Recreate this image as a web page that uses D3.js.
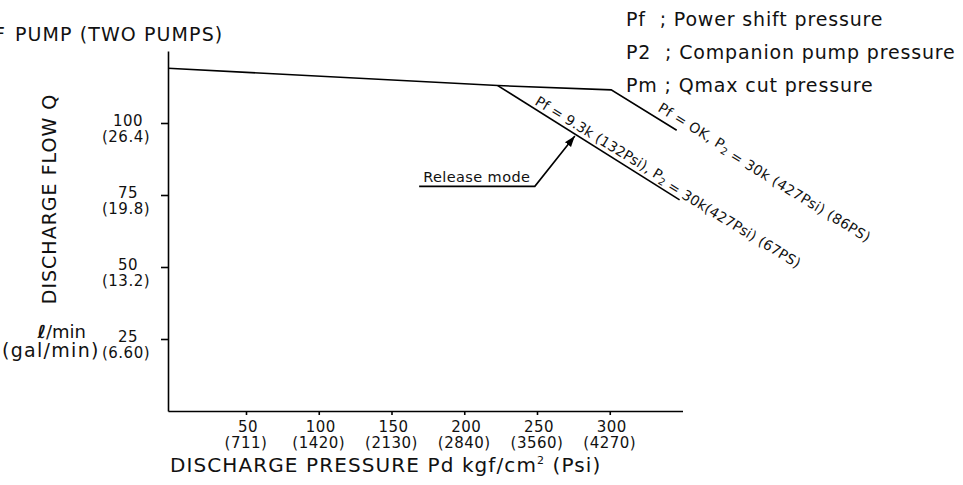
<!DOCTYPE html>
<html>
<head>
<meta charset="utf-8">
<script src="https://cdn.jsdelivr.net/npm/d3@7"></script>
<style>
  body { margin: 0; background: #fff; }
  svg { display: block; font-family: "DejaVu Sans", "Open Sans", sans-serif; fill: #111; }
</style>
</head>
<body>
<div id="viz"></div>
<script>
(function() {

// discharge pressure kgf/cm2 -> discharge flow l/min
var pressureMax = [0, 223, 301, 346],
    flowMax = [119, 113, 111.5, 97.5];      // Pf = 0K, P2 = 30k (86PS)
var pressureRel = [223, 348],
    flowRel = [113, 73.3];                  // Pf = 9.3k, P2 = 30k (67PS)

var xTicks = [50, 100, 150, 200, 250, 300],
    xTickPsi = ["(711)", "(1420)", "(2130)", "(2840)", "(3560)", "(4270)"];
var yTicks = [25, 50, 75, 100],
    yTickGal = ["(6.60)", "(13.2)", "(19.8)", "(26.4)"];

var legendLines = ["Pf  ; Power shift pressure", "P2  ; Companion pump pressure", "Pm ; Qmax cut pressure"];

// release mode pointer (pressure, flow)
var releaseP = [169, 248.5, 276],
    releaseQ = [78, 78, 95.5];

var W = 963, H = 485;

var svg = d3.select("#viz").append("svg")
    .attr("width", W)
    .attr("height", H);

// the drawing's first interval is a bit wider than the rest
var x = d3.scaleLinear().domain([0, 50, 350]).range([168, 246, 682.5]);
var y = d3.scaleLinear().domain([0, 125]).range([411, 51]);

// axes
svg.append("g")
    .attr("transform", "translate(0," + y(0) + ")")
    .call(d3.axisBottom(x).tickValues(xTicks).tickFormat("").tickSize(4).tickSizeOuter(0));
svg.append("g")
    .attr("transform", "translate(" + x(0) + ",0)")
    .call(d3.axisLeft(y).tickValues(yTicks).tickFormat("").tickSize(7).tickSizeOuter(0));
svg.selectAll(".domain, .tick line").style("stroke", "#000").style("stroke-width", 1.6);

// x tick labels
var xl = svg.append("g").style("font-size", "15px").style("letter-spacing", "0.5px")
    .attr("text-anchor", "middle");
xl.selectAll("text.v").data(xTicks).enter().append("text")
    .attr("x", function(d){return x(d) + 2;})
    .attr("y", 432)
    .text(function(d){return d;});
xl.selectAll("text.p").data(xTickPsi).enter().append("text")
    .attr("x", function(d, i){return x(xTicks[i]);})
    .attr("y", 448)
    .text(function(d){return d;});

svg.append("text")
    .attr("x", 170).attr("y", 472)
    .style("font-size", "20px").style("letter-spacing", "1.1px")
    .html("DISCHARGE PRESSURE Pd kgf/cm<tspan dy='-8' style='font-size:11px'>2</tspan><tspan dy='8'> (Psi)</tspan>");

// y tick labels
var yl = svg.append("g").style("font-size", "15px").style("letter-spacing", "0.5px")
    .attr("text-anchor", "middle");
yl.selectAll("text.v").data(yTicks).enter().append("text")
    .attr("x", 128)
    .attr("y", function(d){return y(d) + 3;})
    .text(function(d){return d;});
yl.selectAll("text.g").data(yTickGal).enter().append("text")
    .attr("x", 126)
    .attr("y", function(d, i){return y(yTicks[i]) + 19;})
    .text(function(d){return d;});

svg.append("text")
    .attr("transform", "translate(56,199) rotate(-90)")
    .attr("text-anchor", "middle")
    .style("font-size", "19px").style("letter-spacing", "1px")
    .text("DISCHARGE FLOW Q");

svg.append("text").attr("x", 86).attr("y", 338).attr("text-anchor", "end")
    .style("font-size", "18px")
    .html("<tspan style='font-weight:bold'>ℓ</tspan>/min");
svg.append("text").attr("x", 2).attr("y", 357)
    .style("font-size", "19px").style("letter-spacing", "1.3px")
    .text("(gal/min)");

// title (cut off at the left edge)
var title = svg.append("text").attr("y", 41)
    .style("font-size", "19px").style("letter-spacing", "1.1px");
title.append("tspan").attr("x", -6).text("F");
title.append("tspan").attr("x", 15).text("PUMP (TWO PUMPS)");

// legend
svg.append("g").style("font-size", "19px").style("letter-spacing", "0.85px")
  .selectAll("text").data(legendLines).enter().append("text")
    .attr("x", 626)
    .attr("y", function(d, i){return 26 + i * 33;})
    .attr("xml:space", "preserve")
    .style("white-space", "pre")
    .text(function(d){return d;});

// curves
var line = d3.line()
    .x(function(d){return x(d[0]);})
    .y(function(d){return y(d[1]);});

svg.append("path")
    .datum(d3.zip(pressureMax, flowMax))
    .attr("d", line)
    .style("fill", "none").style("stroke", "#000").style("stroke-width", 1.6);
svg.append("path")
    .datum(d3.zip(pressureRel, flowRel))
    .attr("d", line)
    .style("fill", "none").style("stroke", "#000").style("stroke-width", 1.6);

// curve labels, along the lines
function curveLabel(p, q, ang, ls, parts) {
    var t = svg.append("text")
        .attr("transform", "translate(" + x(p) + "," + y(q) + ") rotate(" + ang + ")")
        .style("font-size", "14px").style("letter-spacing", ls + "px");
    parts.forEach(function(s) {
        if (s === "2") {
            t.append("tspan").attr("dy", 3).style("font-size", "10px").text("2");
            t.append("tspan").attr("dy", -3).text("");
        } else {
            t.append("tspan").text(s);
        }
    });
}
curveLabel(332.5, 104.3, 31.5, 0.35, ["Pf = OK, P", "2", " = 30k (427Psi) (86PS)"]);
curveLabel(248, 106.6, 31.5, 0.15, ["Pf = 9.3k (132Psi), P", "2", " = 30k(427Psi) (67PS)"]);

// release mode pointer
svg.append("defs").append("marker")
    .attr("id", "arr")
    .attr("viewBox", "0 0 10 10")
    .attr("refX", 10).attr("refY", 5)
    .attr("markerWidth", 11).attr("markerHeight", 11)
    .attr("markerUnits", "userSpaceOnUse")
    .attr("orient", "auto")
  .append("path")
    .attr("d", "M0,1.5L10,5L0,8.5z")
    .style("fill", "#000");

svg.append("path")
    .datum(d3.zip(releaseP, releaseQ))
    .attr("d", line)
    .attr("marker-end", "url(#arr)")
    .style("fill", "none").style("stroke", "#000").style("stroke-width", 1.6);

svg.append("text")
    .attr("x", x(releaseP[0]) + 4).attr("y", y(releaseQ[0]) - 4)
    .style("font-size", "14.5px").style("letter-spacing", "0.4px")
    .text("Release mode");

})();
</script>
</body>
</html>
